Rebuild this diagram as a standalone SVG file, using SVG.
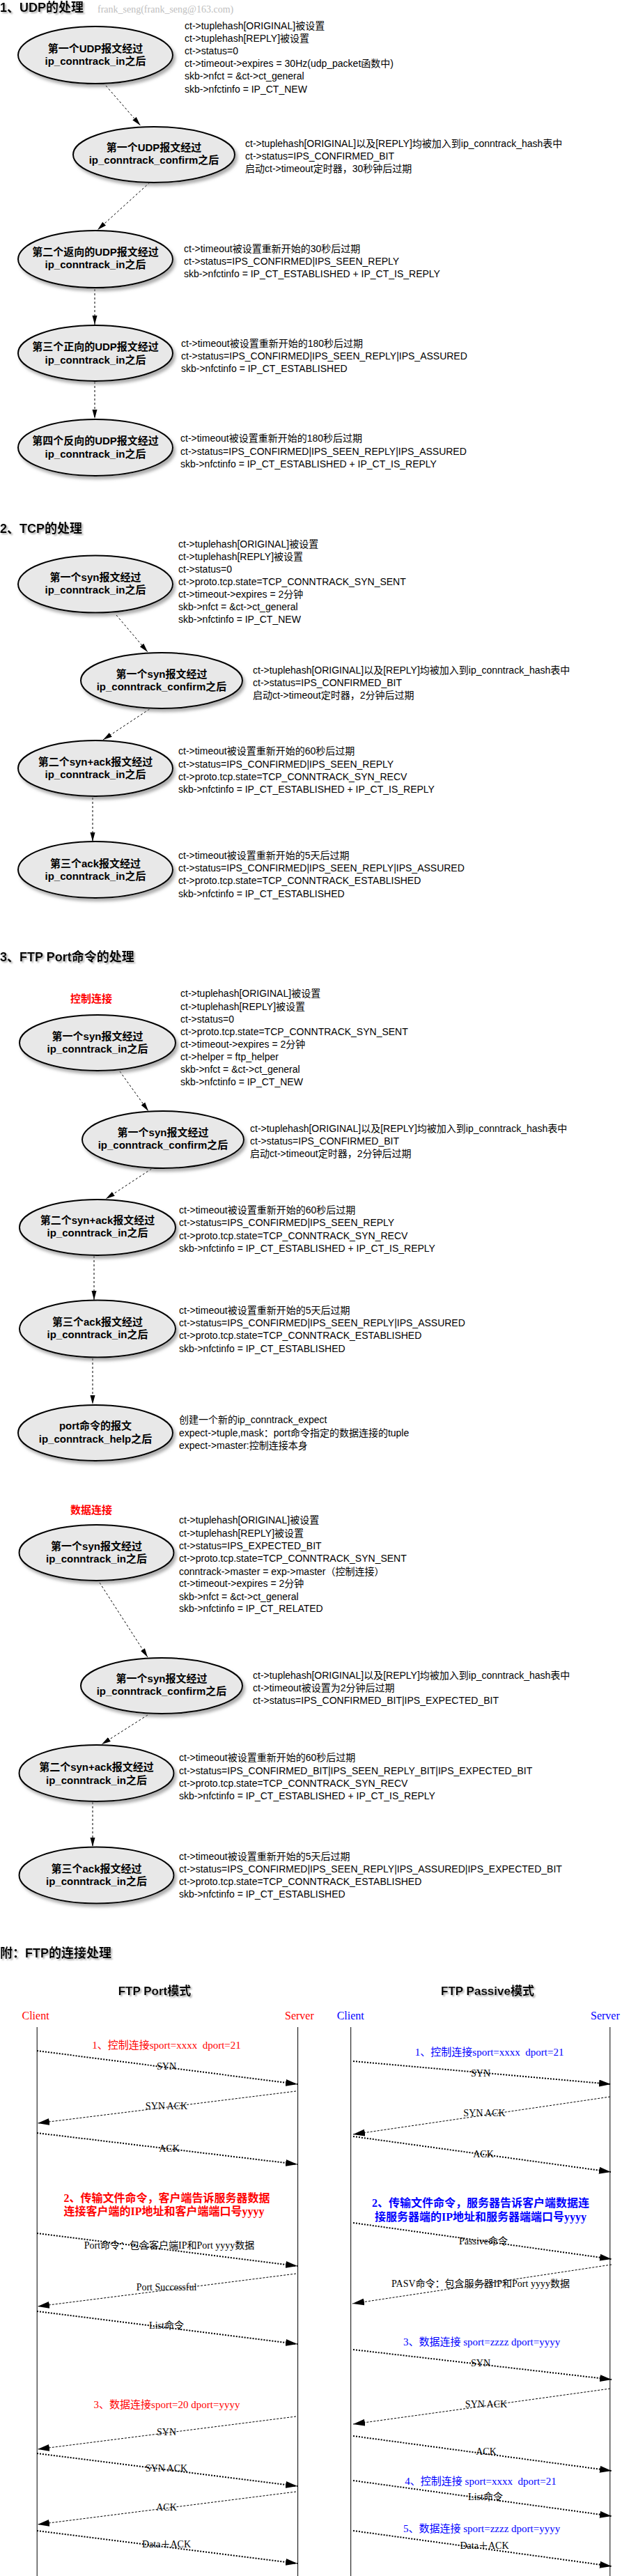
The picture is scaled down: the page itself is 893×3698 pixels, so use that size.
<svg xmlns="http://www.w3.org/2000/svg" width="893" height="3698" viewBox="0 0 893 3698">
<defs>
<style>
.t{font-family:"Liberation Sans","Noto Sans CJK SC",sans-serif;font-size:14px;fill:#000}
.n{font-family:"Liberation Sans","Noto Sans CJK SC",sans-serif;font-size:15px;font-weight:bold;fill:#000;text-anchor:middle}
.h{font-family:"Liberation Sans","Noto Sans CJK SC",sans-serif;font-size:18px;font-weight:bold;fill:#000}
.ht{font-family:"Liberation Sans","Noto Sans CJK SC",sans-serif;font-size:17px;font-weight:bold;fill:#000;text-anchor:middle}
.red{font-family:"Liberation Sans","Noto Sans CJK SC",sans-serif;font-size:15px;font-weight:bold;fill:#ff0000;text-anchor:middle}
.el{fill:#e8e8e8;stroke:#000;stroke-width:2}
.c{fill:none;stroke:#000;stroke-width:1;stroke-dasharray:3 3}
.s{font-family:"Liberation Serif","Noto Sans CJK SC",serif;font-size:14px;fill:#000;text-anchor:middle}
.sr{font-family:"Liberation Serif","Noto Sans CJK SC",serif;font-size:15px;fill:#ff0000;text-anchor:middle}
.srl{font-family:"Liberation Serif","Noto Sans CJK SC",serif;font-size:16px;font-weight:bold;fill:#ff0000;text-anchor:start}
.sb{font-family:"Liberation Serif","Noto Sans CJK SC",serif;font-size:15px;fill:#0000ff;text-anchor:middle}
.sbb{font-family:"Liberation Serif","Noto Sans CJK SC",serif;font-size:16px;font-weight:bold;fill:#0000ff;text-anchor:middle}
.who{font-family:"Liberation Serif",serif;font-size:16px}
.life{stroke:#000;stroke-width:1}
.dot{fill:none;stroke:#000;stroke-width:2;stroke-dasharray:2 2}
.dash{fill:none;stroke:#000;stroke-width:1;stroke-dasharray:3 2}
</style>
<filter id="sh" x="-10%" y="-10%" width="130%" height="140%">
<feDropShadow dx="3" dy="4" stdDeviation="2" flood-color="#777" flood-opacity="0.6"/>
</filter>
<filter id="tsh" x="-5%" y="-20%" width="115%" height="160%">
<feDropShadow dx="2" dy="2" stdDeviation="1.2" flood-color="#999" flood-opacity="0.8"/>
</filter>
<marker id="a" markerUnits="userSpaceOnUse" markerWidth="14" markerHeight="8" refX="13" refY="4" orient="auto">
<path d="M0,0.5 L13,4 L0,7.5 z" fill="#000"/>
</marker>
<marker id="b" markerUnits="userSpaceOnUse" markerWidth="18" markerHeight="10" refX="17" refY="5" orient="auto">
<path d="M0,0 L17,5 L0,10 z" fill="#000"/>
</marker>
</defs>
<rect width="893" height="3698" fill="#fff"/>

<g id="titles">
<text class="h" x="0" y="17" filter="url(#tsh)">1、UDP的处理</text>
<text x="140" y="18" font-family="Liberation Serif, serif" font-size="14" fill="#c0c0c0">frank_seng(frank_seng@163.com)</text>
<text class="h" x="0" y="765" filter="url(#tsh)">2、TCP的处理</text>
<text class="h" x="0" y="1380" filter="url(#tsh)">3、FTP Port命令的处理</text>
<text class="red" x="131" y="1439">控制连接</text>
<text class="red" x="131" y="2173">数据连接</text>
<text class="h" x="0" y="2810" filter="url(#tsh)">附：FTP的连接处理</text>
</g>

<g id="connectors">
<line class="c" x1="152" y1="123" x2="201.5" y2="180" marker-end="url(#a)"/>
<line class="c" x1="215" y1="262" x2="140" y2="330" marker-end="url(#a)"/>
<line class="c" x1="136" y1="415" x2="136" y2="466" marker-end="url(#a)"/>
<line class="c" x1="136" y1="548" x2="136" y2="601" marker-end="url(#a)"/>
<line class="c" x1="167" y1="883" x2="212" y2="936" marker-end="url(#a)"/>
<line class="c" x1="214.6" y1="1018" x2="148" y2="1062" marker-end="url(#a)"/>
<line class="c" x1="133" y1="1145" x2="133" y2="1208" marker-end="url(#a)"/>
<line class="c" x1="172" y1="1538" x2="213" y2="1595" marker-end="url(#a)"/>
<line class="c" x1="217.5" y1="1678" x2="152" y2="1721" marker-end="url(#a)"/>
<line class="c" x1="135" y1="1803" x2="135" y2="1866" marker-end="url(#a)"/>
<line class="c" x1="133" y1="1950" x2="133" y2="2016" marker-end="url(#a)"/>
<line class="c" x1="143" y1="2272" x2="212" y2="2379" marker-end="url(#a)"/>
<line class="c" x1="212" y1="2462" x2="146" y2="2504" marker-end="url(#a)"/>
<line class="c" x1="133" y1="2587" x2="133" y2="2651" marker-end="url(#a)"/>
</g>

<g id="n1"><ellipse class="el" cx="137" cy="79" rx="111" ry="41" filter="url(#sh)"/>
<text class="n" x="137" y="75">第一个UDP报文经过</text><text class="n" x="137" y="93">ip_conntrack_in之后</text></g>
<g id="note1"><text class="t">
<tspan x="265" y="42">ct-&gt;tuplehash[ORIGINAL]被设置</tspan>
<tspan x="265" y="60">ct-&gt;tuplehash[REPLY]被设置</tspan>
<tspan x="265" y="78">ct-&gt;status=0</tspan>
<tspan x="265" y="96">ct-&gt;timeout-&gt;expires = 30Hz(udp_packet函数中)</tspan>
<tspan x="265" y="114">skb-&gt;nfct = &amp;ct-&gt;ct_general</tspan>
<tspan x="265" y="133">skb-&gt;nfctinfo = IP_CT_NEW</tspan></text></g>

<g id="n2"><ellipse class="el" cx="221" cy="222" rx="116" ry="40" filter="url(#sh)"/>
<text class="n" x="221" y="217">第一个UDP报文经过</text><text class="n" x="221" y="235">ip_conntrack_confirm之后</text></g>
<g id="note2"><text class="t">
<tspan x="352" y="211">ct-&gt;tuplehash[ORIGINAL]以及[REPLY]均被加入到ip_conntrack_hash表中</tspan>
<tspan x="352" y="229">ct-&gt;status=IPS_CONFIRMED_BIT</tspan>
<tspan x="352" y="247">启动ct-&gt;timeout定时器，30秒钟后过期</tspan></text></g>

<g id="n3"><ellipse class="el" cx="137" cy="372" rx="111" ry="41" filter="url(#sh)"/>
<text class="n" x="137" y="367">第二个返向的UDP报文经过</text><text class="n" x="137" y="385">ip_conntrack_in之后</text></g>
<g id="note3"><text class="t">
<tspan x="264" y="362">ct-&gt;timeout被设置重新开始的30秒后过期</tspan>
<tspan x="264" y="380">ct-&gt;status=IPS_CONFIRMED|IPS_SEEN_REPLY</tspan>
<tspan x="264" y="398">skb-&gt;nfctinfo = IP_CT_ESTABLISHED + IP_CT_IS_REPLY</tspan></text></g>

<g id="n4"><ellipse class="el" cx="137" cy="507" rx="111" ry="40" filter="url(#sh)"/>
<text class="n" x="137" y="503">第三个正向的UDP报文经过</text><text class="n" x="137" y="522">ip_conntrack_in之后</text></g>
<g id="note4"><text class="t">
<tspan x="260" y="498">ct-&gt;timeout被设置重新开始的180秒后过期</tspan>
<tspan x="260" y="516">ct-&gt;status=IPS_CONFIRMED|IPS_SEEN_REPLY|IPS_ASSURED</tspan>
<tspan x="260" y="534">skb-&gt;nfctinfo = IP_CT_ESTABLISHED</tspan></text></g>

<g id="n5"><ellipse class="el" cx="137" cy="642.5" rx="111" ry="40.5" filter="url(#sh)"/>
<text class="n" x="137" y="638">第四个反向的UDP报文经过</text><text class="n" x="137" y="657">ip_conntrack_in之后</text></g>
<g id="note5"><text class="t">
<tspan x="259" y="634">ct-&gt;timeout被设置重新开始的180秒后过期</tspan>
<tspan x="259" y="653">ct-&gt;status=IPS_CONFIRMED|IPS_SEEN_REPLY|IPS_ASSURED</tspan>
<tspan x="259" y="671">skb-&gt;nfctinfo = IP_CT_ESTABLISHED + IP_CT_IS_REPLY</tspan></text></g>

<g id="n6"><ellipse class="el" cx="137" cy="838.5" rx="111" ry="41" filter="url(#sh)"/>
<text class="n" x="137" y="834">第一个syn报文经过</text><text class="n" x="137" y="852">ip_conntrack_in之后</text></g>
<g id="note6"><text class="t">
<tspan x="256" y="786">ct-&gt;tuplehash[ORIGINAL]被设置</tspan>
<tspan x="256" y="804">ct-&gt;tuplehash[REPLY]被设置</tspan>
<tspan x="256" y="822">ct-&gt;status=0</tspan>
<tspan x="256" y="840">ct-&gt;proto.tcp.state=TCP_CONNTRACK_SYN_SENT</tspan>
<tspan x="256" y="858">ct-&gt;timeout-&gt;expires = 2分钟</tspan>
<tspan x="256" y="876">skb-&gt;nfct = &amp;ct-&gt;ct_general</tspan>
<tspan x="256" y="894">skb-&gt;nfctinfo = IP_CT_NEW</tspan></text></g>

<g id="n7"><ellipse class="el" cx="232" cy="977" rx="116" ry="40" filter="url(#sh)"/>
<text class="n" x="232" y="973">第一个syn报文经过</text><text class="n" x="232" y="991">ip_conntrack_confirm之后</text></g>
<g id="note7"><text class="t">
<tspan x="363" y="967">ct-&gt;tuplehash[ORIGINAL]以及[REPLY]均被加入到ip_conntrack_hash表中</tspan>
<tspan x="363" y="985">ct-&gt;status=IPS_CONFIRMED_BIT</tspan>
<tspan x="363" y="1003">启动ct-&gt;timeout定时器，2分钟后过期</tspan></text></g>

<g id="n8"><ellipse class="el" cx="137" cy="1103" rx="111" ry="40" filter="url(#sh)"/>
<text class="n" x="137" y="1099">第二个syn+ack报文经过</text><text class="n" x="137" y="1117">ip_conntrack_in之后</text></g>
<g id="note8"><text class="t">
<tspan x="256" y="1083">ct-&gt;timeout被设置重新开始的60秒后过期</tspan>
<tspan x="256" y="1102">ct-&gt;status=IPS_CONFIRMED|IPS_SEEN_REPLY</tspan>
<tspan x="256" y="1120">ct-&gt;proto.tcp.state=TCP_CONNTRACK_SYN_RECV</tspan>
<tspan x="256" y="1138">skb-&gt;nfctinfo = IP_CT_ESTABLISHED + IP_CT_IS_REPLY</tspan></text></g>

<g id="n9"><ellipse class="el" cx="137" cy="1248.5" rx="111" ry="40.5" filter="url(#sh)"/>
<text class="n" x="137" y="1245">第三个ack报文经过</text><text class="n" x="137" y="1263">ip_conntrack_in之后</text></g>
<g id="note9"><text class="t">
<tspan x="256" y="1233">ct-&gt;timeout被设置重新开始的5天后过期</tspan>
<tspan x="256" y="1251">ct-&gt;status=IPS_CONFIRMED|IPS_SEEN_REPLY|IPS_ASSURED</tspan>
<tspan x="256" y="1269">ct-&gt;proto.tcp.state=TCP_CONNTRACK_ESTABLISHED</tspan>
<tspan x="256" y="1288">skb-&gt;nfctinfo = IP_CT_ESTABLISHED</tspan></text></g>

<g id="n10"><ellipse class="el" cx="140" cy="1497" rx="112" ry="40" filter="url(#sh)"/>
<text class="n" x="140" y="1493">第一个syn报文经过</text><text class="n" x="140" y="1511">ip_conntrack_in之后</text></g>
<g id="note10"><text class="t">
<tspan x="259" y="1431">ct-&gt;tuplehash[ORIGINAL]被设置</tspan>
<tspan x="259" y="1450">ct-&gt;tuplehash[REPLY]被设置</tspan>
<tspan x="259" y="1468">ct-&gt;status=0</tspan>
<tspan x="259" y="1486">ct-&gt;proto.tcp.state=TCP_CONNTRACK_SYN_SENT</tspan>
<tspan x="259" y="1504">ct-&gt;timeout-&gt;expires = 2分钟</tspan>
<tspan x="259" y="1522">ct-&gt;helper = ftp_helper</tspan>
<tspan x="259" y="1540">skb-&gt;nfct = &amp;ct-&gt;ct_general</tspan>
<tspan x="259" y="1558">skb-&gt;nfctinfo = IP_CT_NEW</tspan></text></g>

<g id="n11"><ellipse class="el" cx="234" cy="1636" rx="116" ry="41" filter="url(#sh)"/>
<text class="n" x="234" y="1631">第一个syn报文经过</text><text class="n" x="234" y="1649">ip_conntrack_confirm之后</text></g>
<g id="note11"><text class="t">
<tspan x="359" y="1625">ct-&gt;tuplehash[ORIGINAL]以及[REPLY]均被加入到ip_conntrack_hash表中</tspan>
<tspan x="359" y="1643">ct-&gt;status=IPS_CONFIRMED_BIT</tspan>
<tspan x="359" y="1661">启动ct-&gt;timeout定时器，2分钟后过期</tspan></text></g>

<g id="n12"><ellipse class="el" cx="140" cy="1762" rx="112" ry="40" filter="url(#sh)"/>
<text class="n" x="140" y="1757">第二个syn+ack报文经过</text><text class="n" x="140" y="1775">ip_conntrack_in之后</text></g>
<g id="note12"><text class="t">
<tspan x="257" y="1742">ct-&gt;timeout被设置重新开始的60秒后过期</tspan>
<tspan x="257" y="1760">ct-&gt;status=IPS_CONFIRMED|IPS_SEEN_REPLY</tspan>
<tspan x="257" y="1779">ct-&gt;proto.tcp.state=TCP_CONNTRACK_SYN_RECV</tspan>
<tspan x="257" y="1797">skb-&gt;nfctinfo = IP_CT_ESTABLISHED + IP_CT_IS_REPLY</tspan></text></g>

<g id="n13"><ellipse class="el" cx="140" cy="1907.5" rx="112" ry="41" filter="url(#sh)"/>
<text class="n" x="140" y="1903">第三个ack报文经过</text><text class="n" x="140" y="1921">ip_conntrack_in之后</text></g>
<g id="note13"><text class="t">
<tspan x="257" y="1886">ct-&gt;timeout被设置重新开始的5天后过期</tspan>
<tspan x="257" y="1904">ct-&gt;status=IPS_CONFIRMED|IPS_SEEN_REPLY|IPS_ASSURED</tspan>
<tspan x="257" y="1922">ct-&gt;proto.tcp.state=TCP_CONNTRACK_ESTABLISHED</tspan>
<tspan x="257" y="1941">skb-&gt;nfctinfo = IP_CT_ESTABLISHED</tspan></text></g>

<g id="n14"><ellipse class="el" cx="137" cy="2057" rx="111" ry="40" filter="url(#sh)"/>
<text class="n" x="137" y="2052">port命令的报文</text><text class="n" x="137" y="2071">ip_conntrack_help之后</text></g>
<g id="note14"><text class="t">
<tspan x="257" y="2043">创建一个新的ip_conntrack_expect</tspan>
<tspan x="257" y="2062">expect-&gt;tuple,mask：port命令指定的数据连接的tuple</tspan>
<tspan x="257" y="2080">expect-&gt;master:控制连接本身</tspan></text></g>

<g id="n15"><ellipse class="el" cx="138.5" cy="2229" rx="111" ry="40" filter="url(#sh)"/>
<text class="n" x="138.5" y="2225">第一个syn报文经过</text><text class="n" x="138.5" y="2243">ip_conntrack_in之后</text></g>
<g id="note15"><text class="t">
<tspan x="257" y="2187">ct-&gt;tuplehash[ORIGINAL]被设置</tspan>
<tspan x="257" y="2206">ct-&gt;tuplehash[REPLY]被设置</tspan>
<tspan x="257" y="2224">ct-&gt;status=IPS_EXPECTED_BIT</tspan>
<tspan x="257" y="2242">ct-&gt;proto.tcp.state=TCP_CONNTRACK_SYN_SENT</tspan>
<tspan x="257" y="2261">conntrack-&gt;master = exp-&gt;master（控制连接）</tspan>
<tspan x="257" y="2278">ct-&gt;timeout-&gt;expires = 2分钟</tspan>
<tspan x="257" y="2297">skb-&gt;nfct = &amp;ct-&gt;ct_general</tspan>
<tspan x="257" y="2314">skb-&gt;nfctinfo = IP_CT_RELATED</tspan></text></g>

<g id="n16"><ellipse class="el" cx="232" cy="2420" rx="116" ry="40" filter="url(#sh)"/>
<text class="n" x="232" y="2415">第一个syn报文经过</text><text class="n" x="232" y="2433">ip_conntrack_confirm之后</text></g>
<g id="note16"><text class="t">
<tspan x="363" y="2410">ct-&gt;tuplehash[ORIGINAL]以及[REPLY]均被加入到ip_conntrack_hash表中</tspan>
<tspan x="363" y="2428">ct-&gt;timeout被设置为2分钟后过期</tspan>
<tspan x="363" y="2446">ct-&gt;status=IPS_CONFIRMED_BIT|IPS_EXPECTED_BIT</tspan></text></g>

<g id="n17"><ellipse class="el" cx="138.5" cy="2545.5" rx="111" ry="40.5" filter="url(#sh)"/>
<text class="n" x="138.5" y="2542">第二个syn+ack报文经过</text><text class="n" x="138.5" y="2561">ip_conntrack_in之后</text></g>
<g id="note17"><text class="t">
<tspan x="257" y="2528">ct-&gt;timeout被设置重新开始的60秒后过期</tspan>
<tspan x="257" y="2547">ct-&gt;status=IPS_CONFIRMED_BIT|IPS_SEEN_REPLY_BIT|IPS_EXPECTED_BIT</tspan>
<tspan x="257" y="2565">ct-&gt;proto.tcp.state=TCP_CONNTRACK_SYN_RECV</tspan>
<tspan x="257" y="2583">skb-&gt;nfctinfo = IP_CT_ESTABLISHED + IP_CT_IS_REPLY</tspan></text></g>

<g id="n18"><ellipse class="el" cx="138.5" cy="2692" rx="111" ry="40.5" filter="url(#sh)"/>
<text class="n" x="138.5" y="2688">第三个ack报文经过</text><text class="n" x="138.5" y="2706">ip_conntrack_in之后</text></g>
<g id="note18"><text class="t">
<tspan x="257" y="2670">ct-&gt;timeout被设置重新开始的5天后过期</tspan>
<tspan x="257" y="2688">ct-&gt;status=IPS_CONFIRMED|IPS_SEEN_REPLY|IPS_ASSURED|IPS_EXPECTED_BIT</tspan>
<tspan x="257" y="2706">ct-&gt;proto.tcp.state=TCP_CONNTRACK_ESTABLISHED</tspan>
<tspan x="257" y="2724">skb-&gt;nfctinfo = IP_CT_ESTABLISHED</tspan></text></g>

<g id="seq-port">
<text class="ht" x="222" y="2864" filter="url(#tsh)">FTP Port模式</text>
<text class="who" x="31.5" y="2899" fill="#ff0000">Client</text>
<text class="who" x="409" y="2899" fill="#ff0000">Server</text>
<line class="life" x1="53.2" y1="2910" x2="53.2" y2="3698"/>
<line class="life" x1="427.6" y1="2910" x2="427.6" y2="3698"/>
<text class="sr" x="239" y="2941" xml:space="preserve">1、控制连接sport=xxxx  dport=21</text>
<line class="dot" x1="53" y1="2944" x2="427" y2="2992" marker-end="url(#b)"/>
<text class="s" x="239" y="2971">SYN</text>
<line class="dash" x1="425" y1="3002" x2="54" y2="3048" marker-end="url(#b)"/>
<text class="s" x="239" y="3028">SYN ACK</text>
<line class="dot" x1="53" y1="3062" x2="427" y2="3107" marker-end="url(#b)"/>
<text class="s" x="243" y="3089">ACK</text>
<text class="srl" x="91.6" y="3161">2、传输文件命令，客户端告诉服务器数据</text>
<text class="srl" x="91.6" y="3180">连接客户端的IP地址和客户端端口号yyyy</text>
<line class="dot" x1="53" y1="3206" x2="427" y2="3253" marker-end="url(#b)"/>
<text class="s" x="243" y="3228">Port命令：包含客户端IP和Port yyyy数据</text>
<line class="dash" x1="425" y1="3264" x2="54" y2="3311" marker-end="url(#b)"/>
<text class="s" x="239" y="3288">Port Successful</text>
<line class="dot" x1="53" y1="3318" x2="427" y2="3365" marker-end="url(#b)"/>
<text class="s" x="239" y="3343">List命令</text>
<text class="sr" x="239.5" y="3457">3、数据连接sport=20 dport=yyyy</text>
<line class="dash" x1="425" y1="3469" x2="54" y2="3516" marker-end="url(#b)"/>
<text class="s" x="239" y="3496">SYN</text>
<line class="dot" x1="53" y1="3522" x2="427" y2="3569" marker-end="url(#b)"/>
<text class="s" x="239" y="3548">SYN ACK</text>
<line class="dash" x1="425" y1="3577" x2="54" y2="3624" marker-end="url(#b)"/>
<text class="s" x="239" y="3604">ACK</text>
<line class="dot" x1="53" y1="3633" x2="427" y2="3680" marker-end="url(#b)"/>
<text class="s" x="239" y="3657">Data＋ACK</text>
</g>

<g id="seq-passive">
<text class="ht" x="700" y="2864" filter="url(#tsh)">FTP Passive模式</text>
<text class="who" x="483.7" y="2899" fill="#0000ff">Client</text>
<text class="who" x="848" y="2899" fill="#0000ff">Server</text>
<line class="life" x1="503.7" y1="2910" x2="503.7" y2="3698"/>
<line class="life" x1="875.8" y1="2910" x2="875.8" y2="3698"/>
<text class="sb" x="702.6" y="2951" xml:space="preserve">1、控制连接sport=xxxx  dport=21</text>
<line class="dot" x1="507" y1="2959" x2="877" y2="2992" marker-end="url(#b)"/>
<text class="s" x="690" y="2981">SYN</text>
<line class="dash" x1="876" y1="3010" x2="507" y2="3064" marker-end="url(#b)"/>
<text class="s" x="695.5" y="3038">SYN ACK</text>
<line class="dot" x1="507" y1="3067" x2="877" y2="3118" marker-end="url(#b)"/>
<text class="s" x="694" y="3097">ACK</text>
<text class="sbb" x="690" y="3168">2、传输文件命令，服务器告诉客户端数据连</text>
<text class="sbb" x="690" y="3188">接服务器端的IP地址和服务器端端口号yyyy</text>
<line class="dot" x1="507" y1="3191" x2="878" y2="3243" marker-end="url(#b)"/>
<text class="s" x="694" y="3222">Passive命令</text>
<line class="dash" x1="878" y1="3251" x2="506" y2="3307" marker-end="url(#b)"/>
<text class="s" x="690" y="3283">PASV命令：包含服务器IP和Port yyyy数据</text>
<text class="sb" x="691.6" y="3367">3、数据连接 sport=zzzz dport=yyyy</text>
<line class="dot" x1="507" y1="3373" x2="878" y2="3416" marker-end="url(#b)"/>
<text class="s" x="690" y="3397">SYN</text>
<line class="dash" x1="876" y1="3429" x2="507" y2="3480" marker-end="url(#b)"/>
<text class="s" x="698" y="3456">SYN ACK</text>
<line class="dot" x1="507" y1="3497" x2="878" y2="3547" marker-end="url(#b)"/>
<text class="s" x="698" y="3524">ACK</text>
<text class="sb" x="690" y="3567" xml:space="preserve">4、控制连接 sport=xxxx  dport=21</text>
<line class="dot" x1="507" y1="3561" x2="878" y2="3612" marker-end="url(#b)"/>
<text class="s" x="697" y="3589">List命令</text>
<text class="sb" x="691.6" y="3635">5、数据连接 sport=zzzz dport=yyyy</text>
<line class="dot" x1="507" y1="3633" x2="878" y2="3684" marker-end="url(#b)"/>
<text class="s" x="695.5" y="3659">Data＋ACK</text>
</g>
</svg>
